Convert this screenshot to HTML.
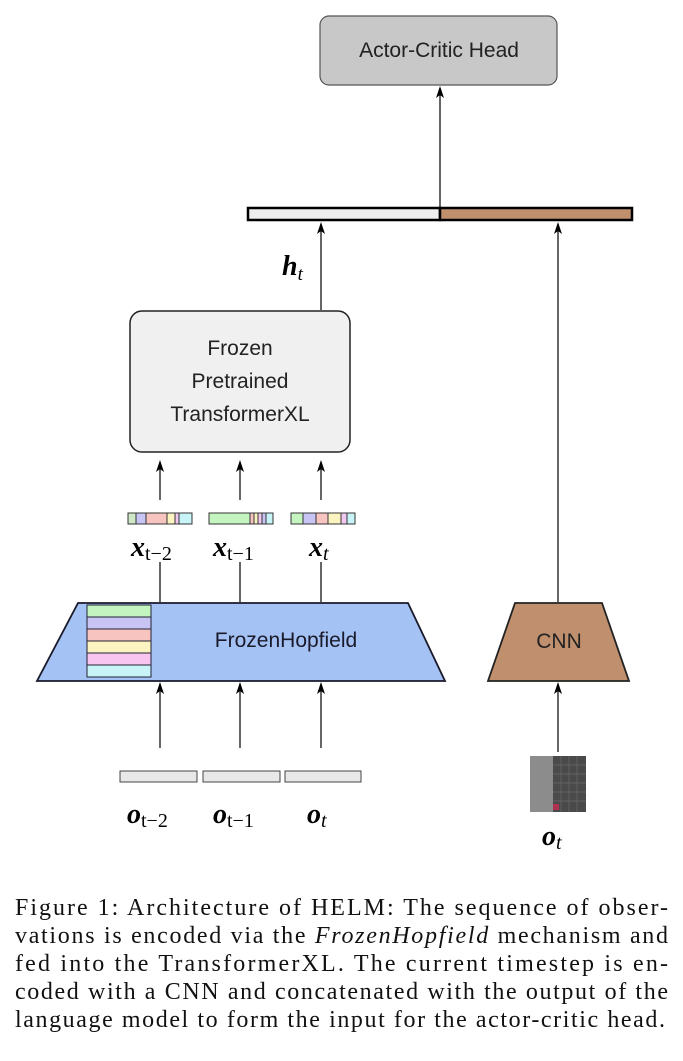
<!DOCTYPE html>
<html><head><meta charset="utf-8"><style>
html,body{margin:0;padding:0;background:#fff;}
svg{display:block;}
.s{font-family:"Liberation Sans",sans-serif;}
.m{font-family:"Liberation Serif",serif;font-style:italic;font-weight:bold;}
.c{font-family:"Liberation Serif",serif;font-size:24px;}
</style></head><body>
<svg width="683" height="1061" viewBox="0 0 683 1061" xmlns="http://www.w3.org/2000/svg">
<g stroke="#000" stroke-width="1.2" fill="none">
<line x1="440" y1="207" x2="440" y2="88"/>
<line x1="321" y1="310" x2="321" y2="224"/>
<line x1="558" y1="602" x2="558" y2="224"/>
<line x1="160" y1="500" x2="160" y2="462"/>
<line x1="240" y1="500" x2="240" y2="462"/>
<line x1="321" y1="500" x2="321" y2="462"/>
<line x1="160" y1="562" x2="160" y2="602"/>
<line x1="240" y1="562" x2="240" y2="602"/>
<line x1="321" y1="562" x2="321" y2="602"/>
<line x1="160" y1="748" x2="160" y2="684"/>
<line x1="240" y1="748" x2="240" y2="684"/>
<line x1="321" y1="748" x2="321" y2="684"/>
<line x1="558" y1="752" x2="558" y2="684"/>
</g>
<g fill="#000">
<path d="M440 86 l-4 12 l4 -3 l4 3z"/>
<path d="M321 222 l-4 12 l4 -3 l4 3z"/>
<path d="M558 222 l-4 12 l4 -3 l4 3z"/>
<path d="M160 460 l-4 12 l4 -3 l4 3z"/>
<path d="M240 460 l-4 12 l4 -3 l4 3z"/>
<path d="M321 460 l-4 12 l4 -3 l4 3z"/>
<path d="M160 682 l-4 12 l4 -3 l4 3z"/>
<path d="M240 682 l-4 12 l4 -3 l4 3z"/>
<path d="M321 682 l-4 12 l4 -3 l4 3z"/>
<path d="M558 682 l-4 12 l4 -3 l4 3z"/>
</g>
<rect x="320" y="16" width="237" height="69" rx="9" fill="#c8c8c8" stroke="#555" stroke-width="1.2"/>
<text x="439" y="57" class="s" font-size="21" text-anchor="middle" fill="#222">Actor-Critic Head</text>
<rect x="248" y="208" width="192" height="12" fill="#eeeeee" stroke="#000" stroke-width="2.5"/>
<rect x="440" y="208" width="192" height="12" fill="#c0906e" stroke="#000" stroke-width="2.5"/>
<text x="282" y="275" class="m" font-size="28">h<tspan font-size="19" dy="5" font-weight="normal">t</tspan></text>
<rect x="130" y="311" width="220" height="141" rx="12" fill="#f0f0f0" stroke="#222" stroke-width="1.5"/>
<text class="s" font-size="21" text-anchor="middle" fill="#222"><tspan x="240" y="355">Frozen</tspan><tspan x="240" y="388">Pretrained</tspan><tspan x="240" y="421">TransformerXL</tspan></text>
<g stroke="#333" stroke-width="1">
<rect x="128" y="513" width="8" height="11" fill="#cfe8c8"/><rect x="136" y="513" width="10" height="11" fill="#c8c4f4"/><rect x="146" y="513" width="21" height="11" fill="#f8c4c0"/><rect x="167" y="513" width="8" height="11" fill="#fbf4c0"/><rect x="175" y="513" width="4" height="11" fill="#f0c8f0"/><rect x="179" y="513" width="13" height="11" fill="#c8f4f8"/>
<rect x="209" y="513" width="41" height="11" fill="#c4f4c0"/><rect x="250" y="513" width="4" height="11" fill="#f8c4c0"/><rect x="254" y="513" width="4" height="11" fill="#fbf4c0"/><rect x="258" y="513" width="4" height="11" fill="#f0c8f0"/><rect x="262" y="513" width="4" height="11" fill="#c8c4f4"/><rect x="266" y="513" width="7" height="11" fill="#c8f4f8"/>
<rect x="291" y="513" width="12" height="11" fill="#c4f4c0"/><rect x="303" y="513" width="13" height="11" fill="#c8c4f4"/><rect x="316" y="513" width="12" height="11" fill="#f8c4c0"/><rect x="328" y="513" width="13" height="11" fill="#fbf4c0"/><rect x="341" y="513" width="6" height="11" fill="#f0c8f0"/><rect x="347" y="513" width="8" height="11" fill="#c8f4f8"/>
</g>
<g class="m" font-size="28">
<text x="131" y="556">x<tspan font-size="20" dy="4" font-weight="normal" font-style="normal">t−2</tspan></text>
<text x="213" y="556">x<tspan font-size="20" dy="4" font-weight="normal" font-style="normal">t−1</tspan></text>
<text x="309" y="556">x<tspan font-size="20" dy="4" font-weight="normal">t</tspan></text>
</g>
<polygon points="78,603 408,603 445,681 37,681" fill="#a4c2f4" stroke="#1a1a2a" stroke-width="1.8"/>
<g stroke="#223" stroke-width="1">
<rect x="87" y="605" width="64" height="12" fill="#c4f4c0"/>
<rect x="87" y="617" width="64" height="12" fill="#c8c4f4"/>
<rect x="87" y="629" width="64" height="12" fill="#f8c4c0"/>
<rect x="87" y="641" width="64" height="12" fill="#fbf4c0"/>
<rect x="87" y="653" width="64" height="12" fill="#f8c4f0"/>
<rect x="87" y="665" width="64" height="12" fill="#c8f4f8"/>
</g>
<text x="286" y="647" class="s" font-size="21" text-anchor="middle" fill="#1a1a2a">FrozenHopfield</text>
<polygon points="515,603 602,603 629,681 488,681" fill="#c0906e" stroke="#222" stroke-width="1.8"/>
<text x="559" y="648" class="s" font-size="21" text-anchor="middle" fill="#222">CNN</text>
<g fill="#e8e8e8" stroke="#444" stroke-width="1">
<rect x="120" y="771" width="77" height="11"/>
<rect x="203" y="771" width="77" height="11"/>
<rect x="285" y="771" width="76" height="11"/>
</g>
<g class="m" font-size="28">
<text x="127" y="823">o<tspan font-size="20" dy="4" font-weight="normal" font-style="normal">t−2</tspan></text>
<text x="213" y="823">o<tspan font-size="20" dy="4" font-weight="normal" font-style="normal">t−1</tspan></text>
<text x="307" y="823">o<tspan font-size="20" dy="4" font-weight="normal">t</tspan></text>
<text x="542" y="845">o<tspan font-size="20" dy="4" font-weight="normal">t</tspan></text>
</g>
<rect x="530" y="756" width="23" height="56" fill="#8c8c8c"/>
<rect x="553" y="756" width="33" height="56" fill="#4a4a4a"/>
<g stroke="#6a6a6a" stroke-width="0.7">
<line x1="553" y1="765" x2="586" y2="765"/><line x1="553" y1="774" x2="586" y2="774"/><line x1="553" y1="783" x2="586" y2="783"/><line x1="553" y1="792" x2="586" y2="792"/><line x1="553" y1="801" x2="586" y2="801"/>
<line x1="561" y1="756" x2="561" y2="812"/><line x1="569" y1="756" x2="569" y2="812"/><line x1="577" y1="756" x2="577" y2="812"/>
</g>
<rect x="553" y="804" width="6" height="6" fill="#b03050"/>
<g class="c" fill="#111">
<text x="15" y="915" textLength="653" lengthAdjust="spacing">Figure 1: Architecture of HELM: The sequence of obser-</text>
<text x="15" y="943" textLength="653" lengthAdjust="spacing">vations is encoded via the <tspan font-style="italic">FrozenHopfield</tspan> mechanism and</text>
<text x="15" y="971" textLength="653" lengthAdjust="spacing">fed into the TransformerXL. The current timestep is en-</text>
<text x="15" y="999" textLength="653" lengthAdjust="spacing">coded with a CNN and concatenated with the output of the</text>
<text x="15" y="1027" textLength="650" lengthAdjust="spacing">language model to form the input for the actor-critic head.</text>
</g>
</svg>
</body></html>
